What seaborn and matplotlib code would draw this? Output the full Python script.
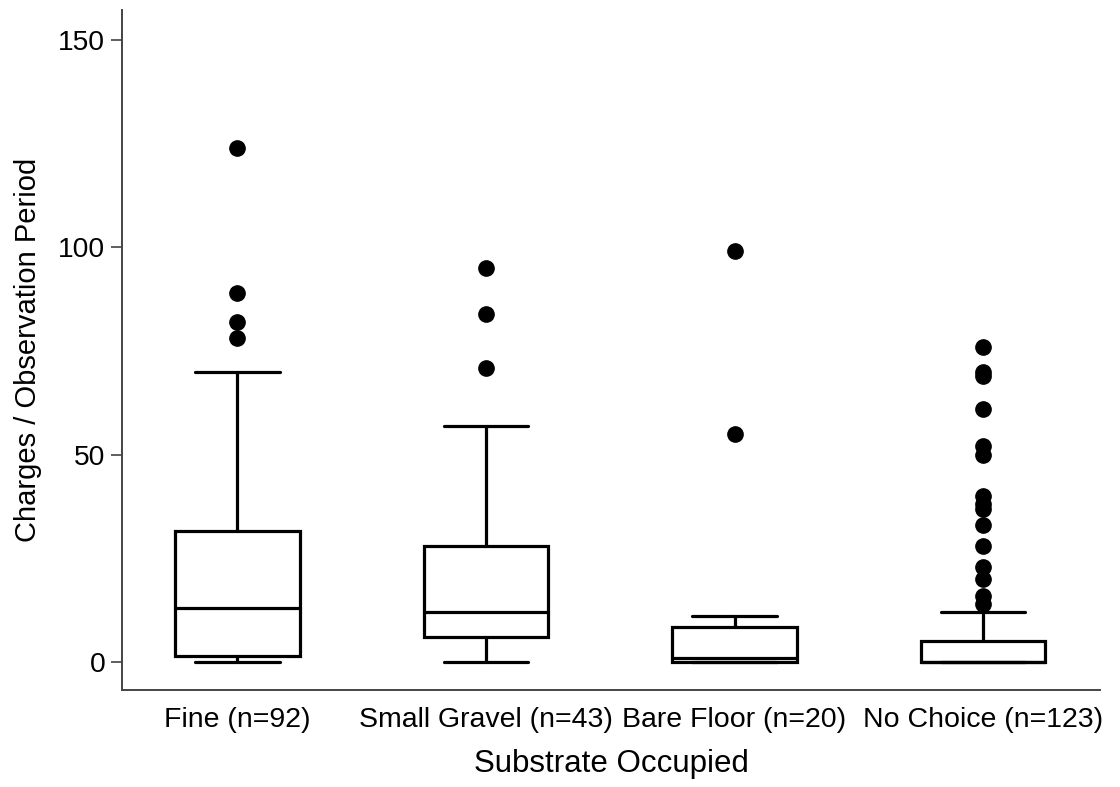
import matplotlib
matplotlib.use("Agg")
import matplotlib.pyplot as plt
import seaborn as sns

categories = ["Fine (n=92)", "Small Gravel (n=43)", "Bare Floor (n=20)", "No Choice (n=123)"]
whisker_low = [0, 0, 0, 0]
q1 = [1.5, 6, 0, 0]
median = [13, 12, 1, 0]
q3 = [31.5, 28, 8.5, 5]
whisker_high = [70, 57, 11, 12]
outliers = [
    [124, 89, 82, 78],
    [95, 84, 71],
    [99, 55],
    [76, 70, 69, 61, 52, 50, 40, 38, 37, 33, 28, 23, 20, 16, 14],
]
y_ticks = [0, 50, 100, 150]

sns.set_theme(style="ticks")
plt.rcParams["font.family"] = ["Liberation Sans", "DejaVu Sans"]
plt.rcParams["text.color"] = "black"
plt.rcParams["axes.labelcolor"] = "black"
plt.rcParams["xtick.color"] = "black"
plt.rcParams["ytick.color"] = "black"

fig = plt.figure(figsize=(11.2, 7.87), dpi=100)
ax = fig.add_axes([122 / 1120, 1 - 690 / 787, (1100 - 122) / 1120, (690 - 10) / 787])

stats = []
for i, lab in enumerate(categories):
    stats.append(dict(label=lab, whislo=whisker_low[i], q1=q1[i], med=median[i],
                      q3=q3[i], whishi=whisker_high[i], fliers=outliers[i]))

lw = 2.3
ax.bxp(stats, positions=range(len(categories)), widths=0.5, capwidths=0.34,
       patch_artist=True, showfliers=True,
       boxprops=dict(facecolor="white", edgecolor="black", linewidth=lw),
       medianprops=dict(color="black", linewidth=lw),
       whiskerprops=dict(color="black", linewidth=lw),
       capprops=dict(color="black", linewidth=lw),
       flierprops=dict(marker="o", markerfacecolor="black", markeredgecolor="black",
                       markersize=11, linestyle="none"))

ax.set_xlim(-0.464, 3.47)
ax.set_ylim(-6.75, 157.2)
ax.set_yticks(y_ticks)
ax.set_yticklabels([str(t) for t in y_ticks])
ax.tick_params(axis="y", labelsize=20.3, length=8, width=1.1, color="#333333",
               labelcolor="black", pad=4)
ax.tick_params(axis="x", labelsize=20.5, length=0, pad=12, labelcolor="black")
sns.despine(ax=ax)
for s in ["left", "bottom"]:
    ax.spines[s].set_linewidth(1.4)
    ax.spines[s].set_color("#444444")
ax.set_xlabel("Substrate Occupied", fontsize=22.5, labelpad=12, color="black")
ax.set_ylabel("Charges / Observation Period", fontsize=21, labelpad=12, color="black")
ax.grid(False)
fig.savefig("out.png", dpi=100)
